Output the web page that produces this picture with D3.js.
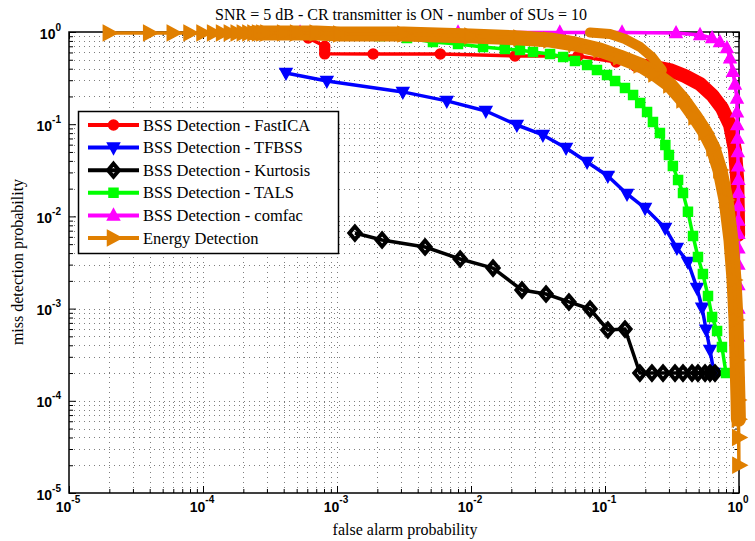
<!DOCTYPE html>
<html>
<head>
<meta charset="utf-8">
<script src="https://cdnjs.cloudflare.com/ajax/libs/d3/7.8.5/d3.min.js"></script>
<style>
  body { margin: 0; background: #fff; }
</style>
</head>
<body>
<script>
// axis ticks
var majorTicks = [1e-5, 1e-4, 1e-3, 1e-2, 1e-1, 1];
var tickExponents = ["-5", "-4", "-3", "-2", "-1", "0"];
var minorMultipliers = [2, 3, 4, 5, 6, 7, 8, 9];

var seriesNames = [
  "BSS Detection - FastICA",
  "BSS Detection - TFBSS",
  "BSS Detection - Kurtosis",
  "BSS Detection - TALS",
  "BSS Detection - comfac",
  "Energy Detection"
];

// values (false alarm prob, miss detection prob)
var fastIcaX = [6.1e-4, 8.1e-4, 8.1e-4, 8.1e-4, 1.86e-3, 5.9e-3, 0.0213, 0.063, 0.121, 0.17,
  0.236, 0.305, 0.395, 0.512, 0.63, 0.746, 0.857, 0.933, 0.97, 0.98, 0.985];
var fastIcaY = [0.86, 0.70, 0.64, 0.58, 0.577, 0.577, 0.55, 0.55, 0.473, 0.439,
  0.417, 0.387, 0.333, 0.273, 0.207, 0.150, 0.098, 0.0525, 0.0248, 0.0117, 0.0063];

var tfbssX = [4.16e-4, 8.4e-4, 3.1e-3, 6.6e-3, 0.0129, 0.022, 0.0344, 0.0512, 0.0735, 0.105,
  0.146, 0.199, 0.281, 0.344, 0.416, 0.486, 0.53, 0.568, 0.608, 0.65];
var tfbssY = [0.359, 0.294, 0.224, 0.179, 0.139, 0.098, 0.0764, 0.0552, 0.0389, 0.0274,
  0.0175, 0.0123, 0.00748, 0.00454, 0.0032, 0.00167, 0.00102, 5.9e-4, 3.56e-4, 2.0e-4];

var kurtosisX = [1.36e-3, 2.17e-3, 4.54e-3, 8.3e-3, 0.0146, 0.024, 0.0363, 0.0538, 0.0773, 0.105,
  0.141, 0.182, 0.224, 0.271, 0.333, 0.382, 0.446, 0.494, 0.558, 0.608, 0.662];
var kurtosisY = [0.0066, 0.00555, 0.00466, 0.00345, 0.00275, 0.00159, 0.00144, 0.00118, 9.9e-4, 5.86e-4,
  6.0e-4, 2e-4, 2e-4, 2e-4, 2e-4, 2e-4, 2e-4, 2e-4, 2e-4, 2e-4, 2e-4];

var talsX = [1.05e-3, 2.09e-3, 3.33e-3, 5.2e-3, 8.0e-3, 0.0123, 0.0179, 0.0232, 0.029, 0.0389,
  0.0487, 0.0597, 0.0735, 0.0871, 0.1035, 0.119, 0.141, 0.162, 0.183, 0.206,
  0.228, 0.257, 0.282, 0.30, 0.321, 0.351, 0.382, 0.416, 0.454, 0.494,
  0.538, 0.587, 0.63, 0.686, 0.746, 0.80];
var talsY = [0.928, 0.905, 0.861, 0.779, 0.741, 0.687, 0.654, 0.638, 0.607, 0.577,
  0.536, 0.485, 0.439, 0.387, 0.342, 0.294, 0.247, 0.207, 0.170, 0.1355,
  0.1057, 0.0803, 0.0595, 0.0463, 0.0352, 0.0248, 0.0179, 0.0112, 0.00613, 0.00363,
  0.00237, 0.00137, 8.1e-4, 5.7e-4, 3.83e-4, 2.0e-4];

var comfacX = [5.3e-4, 8e-3, 0.046, 0.134, 0.339, 0.512, 0.63, 0.72, 0.813, 0.857,
  0.90, 0.933, 0.966, 0.966, 0.97, 0.975, 0.98, 0.985, 0.99, 0.99,
  0.99, 0.99, 0.99, 0.99, 0.99, 0.99, 0.99, 0.985, 0.98];
var comfacY = [0.99, 0.99, 0.99, 0.99, 0.975, 0.93, 0.86, 0.78, 0.67, 0.52,
  0.37, 0.27, 0.19, 0.135, 0.098, 0.07, 0.05, 0.035, 0.025, 0.018,
  0.013, 0.009, 0.0065, 0.0045, 0.003, 0.0018, 0.001, 5e-4, 2e-4];

var energyX = [2e-5, 4e-5, 6e-5, 8e-5, 1e-4, 1.2e-4, 1.4e-4, 1.6e-4, 1.8e-4, 2e-4,
  2.2e-4, 2.4e-4, 2.6e-4, 2.8e-4, 3e-4, 4e-4, 5e-4, 7e-4, 1.05e-3, 3.16e-3,
  0.01, 0.0232, 0.0389, 0.0597, 0.0918, 0.129, 0.183, 0.236, 0.305, 0.382,
  0.47, 0.558, 0.64, 0.72, 0.80, 0.871, 0.918, 0.95, 0.966, 0.983,
  0.99, 0.995, 0.998];
var energyY = [0.975, 0.975, 0.975, 0.975, 0.975, 0.975, 0.975, 0.975, 0.975, 0.975,
  0.975, 0.975, 0.975, 0.975, 0.975, 0.975, 0.975, 0.975, 0.951, 0.95,
  0.905, 0.861, 0.819, 0.741, 0.638, 0.536, 0.439, 0.35, 0.266, 0.183,
  0.12, 0.082, 0.0552, 0.0319, 0.0151, 0.00555, 0.00204, 7.5e-4, 2.77e-4, 1.02e-4,
  6.3e-5, 4.0e-5, 2e-5];
// second orange trace splitting off near the top right
var energyBranchX = [0.0773, 0.109, 0.141, 0.183, 0.224, 0.266];
var energyBranchY = [0.99, 0.95, 0.84, 0.687, 0.536, 0.387];

var width = 755, height = 541;
var plotLeft = 69, plotRight = 739, plotTop = 32, plotBottom = 493;

var x = d3.scaleLog().domain([1e-5, 1]).range([plotLeft, plotRight]);
var y = d3.scaleLog().domain([1e-5, 1]).range([plotBottom, plotTop]);

var minorTicks = [];
majorTicks.slice(0, -1).forEach(function(t) {
  minorMultipliers.forEach(function(m) { minorTicks.push(t * m); });
});

var svg = d3.select('body').append('svg')
  .attr('width', width)
  .attr('height', height)
  .style('font-family', '"Liberation Serif", "Times New Roman", serif');

// dotted grid on major and minor ticks
var gridVals = majorTicks.slice(1, -1).concat(minorTicks);
var grid = svg.append('g')
  .attr('stroke', '#000')
  .attr('stroke-width', 1)
  .attr('stroke-dasharray', '1,4')
  .attr('opacity', 0.5);
grid.selectAll('line.gx').data(gridVals).enter().append('line')
  .attr('x1', function(d) { return Math.round(x(d)) + 0.5; })
  .attr('x2', function(d) { return Math.round(x(d)) + 0.5; })
  .attr('y1', plotTop).attr('y2', plotBottom);
grid.selectAll('line.gy').data(gridVals).enter().append('line')
  .attr('y1', function(d) { return Math.round(y(d)) + 0.5; })
  .attr('y2', function(d) { return Math.round(y(d)) + 0.5; })
  .attr('x1', plotLeft).attr('x2', plotRight);

// inward tick marks on all four sides
function tickMarks(axisFn, scale, vals, size, transform) {
  svg.append('g')
    .attr('transform', transform)
    .call(axisFn(scale).tickValues(vals).tickSize(size).tickSizeOuter(0).tickFormat(''))
    .call(function(g) { g.select('.domain').remove(); g.selectAll('line').attr('stroke', '#000'); });
}
tickMarks(d3.axisBottom, x, majorTicks, -7, 'translate(0,' + plotBottom + ')');
tickMarks(d3.axisBottom, x, minorTicks, -4, 'translate(0,' + plotBottom + ')');
tickMarks(d3.axisTop, x, majorTicks, -7, 'translate(0,' + plotTop + ')');
tickMarks(d3.axisTop, x, minorTicks, -4, 'translate(0,' + plotTop + ')');
tickMarks(d3.axisLeft, y, majorTicks, -7, 'translate(' + plotLeft + ',0)');
tickMarks(d3.axisLeft, y, minorTicks, -4, 'translate(' + plotLeft + ',0)');
tickMarks(d3.axisRight, y, majorTicks, -7, 'translate(' + plotRight + ',0)');
tickMarks(d3.axisRight, y, minorTicks, -4, 'translate(' + plotRight + ',0)');

svg.append('rect')
  .attr('x', plotLeft).attr('y', plotTop)
  .attr('width', plotRight - plotLeft).attr('height', plotBottom - plotTop)
  .attr('fill', 'none').attr('stroke', '#000').attr('stroke-width', 1.5);

// tick labels 10^n
var tickFont = '"Liberation Sans", Arial, sans-serif';
svg.selectAll('text.xl').data(majorTicks).enter().append('text')
  .attr('x', function(d) { return x(d) - 1; })
  .attr('y', 512)
  .attr('text-anchor', 'middle')
  .style('font-family', tickFont).style('font-weight', 'bold').style('font-size', '14px')
  .each(function(d, i) {
    var t = d3.select(this);
    t.append('tspan').text('10');
    t.append('tspan').attr('dy', -9).style('font-size', '10px').text(tickExponents[i]);
  });
svg.selectAll('text.yl').data(majorTicks).enter().append('text')
  .attr('x', 61)
  .attr('y', function(d) { return y(d) + 6.5; })
  .attr('text-anchor', 'end')
  .style('font-family', tickFont).style('font-weight', 'bold').style('font-size', '14px')
  .each(function(d, i) {
    var t = d3.select(this);
    t.append('tspan').text('10');
    t.append('tspan').attr('dy', -8).style('font-size', '10px').text(tickExponents[i]);
  });

// marker shapes
var markerPaths = {
  circle: 'M-5,0A5,5 0 1,0 5,0A5,5 0 1,0 -5,0Z',
  triDown: 'M-6,-4.5L6,-4.5L0,6.5Z',
  diamond: 'M0,-6.5L5.5,0L0,6.5L-5.5,0Z',
  square: 'M-4.5,-4.5h9v9h-9Z',
  triUp: 'M-6,4.5L6,4.5L0,-6.5Z',
  triRight: 'M-6,-7.5L8,0L-6,7.5Z'
};

var series = [
  { xs: fastIcaX, ys: fastIcaY, color: '#ff0000', marker: 'circle', fill: true,
    band: function(d) { return d[0] >= 0.17; }, bandWidth: 14 },
  { xs: tfbssX, ys: tfbssY, color: '#0000ff', marker: 'triDown', fill: true },
  { xs: kurtosisX, ys: kurtosisY, color: '#000000', marker: 'diamond', fill: false },
  { xs: talsX, ys: talsY, color: '#00ff00', marker: 'square', fill: true },
  { xs: comfacX, ys: comfacY, color: '#ff00ff', marker: 'triUp', fill: true },
  { xs: energyX, ys: energyY, color: '#e07f00', marker: 'triRight', fill: true,
    band: function(d) { return d[0] >= 2.4e-4 && d[1] >= 6e-5; }, bandWidth: 15,
    branch: [energyBranchX, energyBranchY] }
];

var line = d3.line()
  .x(function(d) { return x(d[0]); })
  .y(function(d) { return y(d[1]); });

series.forEach(function(s, k) {
  s.name = seriesNames[k];
  var pts = s.xs.map(function(v, i) { return [v, s.ys[i]]; });
  var g = svg.append('g');
  if (s.branch) {
    var bp = s.branch[0].map(function(v, i) { return [v, s.branch[1][i]]; });
    g.append('path').datum(bp).attr('d', line)
      .attr('fill', 'none').attr('stroke', s.color).attr('stroke-width', 10)
      .attr('stroke-linecap', 'round').attr('stroke-linejoin', 'round');
  }
  if (s.band) {
    g.append('path').datum(pts.filter(s.band)).attr('d', line)
      .attr('fill', 'none').attr('stroke', s.color).attr('stroke-width', s.bandWidth)
      .attr('stroke-linecap', 'round').attr('stroke-linejoin', 'round');
  }
  g.append('path').datum(pts).attr('d', line)
    .attr('fill', 'none').attr('stroke', s.color).attr('stroke-width', 3.5)
    .attr('stroke-linejoin', 'round');
  g.selectAll('path.m').data(pts).enter().append('path')
    .attr('transform', function(d) { return 'translate(' + x(d[0]) + ',' + y(d[1]) + ')'; })
    .attr('d', markerPaths[s.marker])
    .attr('fill', s.fill ? s.color : 'none')
    .attr('stroke', s.color)
    .attr('stroke-width', s.fill ? 1.5 : 4);
});

// legend
var legend = svg.append('g');
legend.append('rect')
  .attr('x', 78.5).attr('y', 111.5).attr('width', 260).attr('height', 142)
  .attr('fill', '#fff').attr('stroke', '#000').attr('stroke-width', 1.5);
series.forEach(function(s, i) {
  var yc = 125 + i * 22.6;
  legend.append('line')
    .attr('x1', 88).attr('x2', 139).attr('y1', yc).attr('y2', yc)
    .attr('stroke', s.color).attr('stroke-width', 4);
  legend.append('path')
    .attr('transform', 'translate(113.5,' + yc + ')')
    .attr('d', markerPaths[s.marker])
    .attr('fill', s.fill ? s.color : 'none')
    .attr('stroke', s.color)
    .attr('stroke-width', s.fill ? 1.5 : 4);
  legend.append('text')
    .attr('x', 143).attr('y', yc + 5.5)
    .style('font-size', '16.5px')
    .text(s.name);
});

// titles
svg.append('text')
  .attr('x', 401).attr('y', 20)
  .attr('text-anchor', 'middle')
  .style('font-size', '16px')
  .text('SNR = 5 dB - CR transmitter is ON - number of SUs = 10');
svg.append('text')
  .attr('x', 405).attr('y', 535)
  .attr('text-anchor', 'middle')
  .style('font-size', '16px')
  .text('false alarm probability');
svg.append('text')
  .attr('transform', 'translate(23,262) rotate(-90)')
  .attr('text-anchor', 'middle')
  .style('font-size', '16px')
  .text('miss detection probability');
</script>
</body>
</html>
